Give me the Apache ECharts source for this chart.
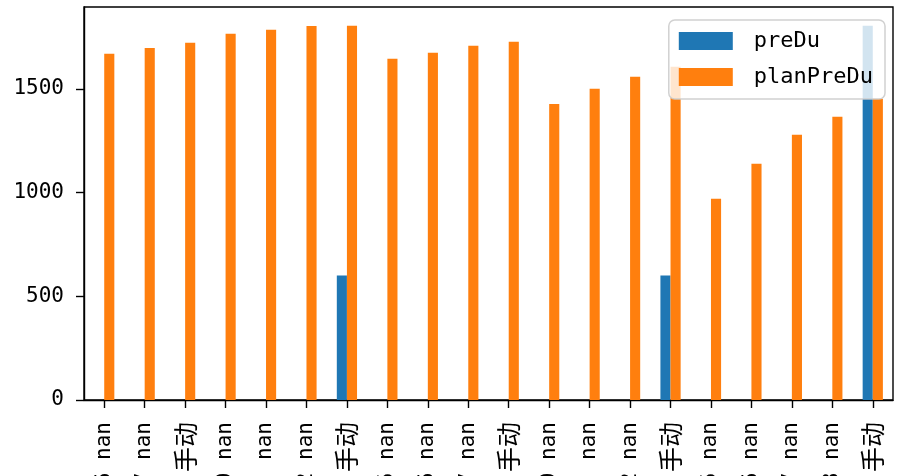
<!DOCTYPE html>
<html>
<head>
<meta charset="utf-8">
<script src="https://cdn.jsdelivr.net/npm/echarts@6/dist/echarts.min.js"></script>
<style>
  html, body { margin: 0; padding: 0; background: #fff; }
  #chart { width: 897px; height: 476px; }
</style>
</head>
<body>
<div id="chart"></div>
<script>
const categories = ['6 nan','7 nan','手动','0 nan','nan','2 nan','手动','5 nan','6 nan','7 nan','手动','0 nan','nan','2 nan','手动','5 nan','6 nan','7 nan','8 nan','手动'];
const preDu = [null,null,null,null,null,null,600,null,null,null,null,null,null,null,600,null,null,null,null,1805];
const planPreDu = [1670,1697,1723,1766,1786,1804,1805,1646,1675,1708,1728,1428,1501,1559,1607,970,1139,1279,1366,1453];
const yTicks = [0, 500, 1000, 1500];

const dataMax = Math.max(...preDu.filter(v => v != null), ...planPreDu);
const yMax = dataMax * 1.05;

const latin = '"DejaVu Sans Mono", "Noto Sans CJK SC", monospace';
const cjk = '"Noto Sans CJK SC", sans-serif';

function richLabel(v) {
  return v.split(/(手动)/).filter(s => s.length).map(s => s === '手动' ? '{c|' + s + '}' : '{n|' + s + '}').join('');
}

const chart = echarts.init(document.getElementById('chart'), null, { renderer: 'canvas' });
chart.setOption({
  animation: false,
  backgroundColor: '#fff',
  grid: {
    left: 84, right: 4, top: 7, bottom: 76,
    containLabel: false,
    outerBoundsMode: 'none',
    show: true, borderColor: '#000', borderWidth: 1.4,
    backgroundColor: 'transparent'
  },
  legend: {
    orient: 'vertical',
    right: 12, top: 20,
    itemWidth: 54, itemHeight: 18, itemGap: 14,
    icon: 'rect',
    padding: [10, 12, 11, 10],
    backgroundColor: 'rgba(255,255,255,0.8)',
    borderColor: 'rgba(204,204,204,0.9)',
    borderWidth: 1.5,
    borderRadius: 6,
    selectedMode: false,
    textStyle: { fontFamily: latin, fontSize: 22, color: '#000', lineHeight: 22, padding: [0, 0, 0, 16] },
    data: ['preDu', 'planPreDu']
  },
  xAxis: {
    type: 'category',
    data: categories,
    boundaryGap: true,
    axisLine: { show: true, lineStyle: { color: '#000', width: 1.4 } },
    axisTick: { show: true, alignWithLabel: true, length: 8, inside: false, lineStyle: { color: '#000', width: 1.4 } },
    axisLabel: {
      interval: 0,
      rotate: 90,
      margin: 22,
      hideOverlap: false,
      color: '#000',
      formatter: richLabel,
      rich: {
        n: { fontFamily: latin, fontSize: 21, color: '#000', lineHeight: 26 },
        c: { fontFamily: cjk, fontSize: 25, color: '#000', lineHeight: 26 }
      }
    },
    splitLine: { show: false }
  },
  yAxis: {
    type: 'value',
    min: 0,
    max: yMax,
    axisLine: { show: true, lineStyle: { color: '#000', width: 1.4 } },
    axisTick: { show: true, length: 8, inside: false, customValues: yTicks, lineStyle: { color: '#000', width: 1.4 } },
    axisLabel: {
      customValues: yTicks, margin: 20, fontFamily: latin, fontSize: 21, color: '#000',
      formatter: v => String(Math.round(v))
    },
    splitLine: { show: false }
  },
  series: [
    { name: 'preDu', type: 'bar', data: preDu, barWidth: '25%', barGap: '0%', itemStyle: { color: '#1f77b4' } },
    { name: 'planPreDu', type: 'bar', data: planPreDu, barWidth: '25%', barGap: '0%', itemStyle: { color: '#ff7f0e' } }
  ]
});
</script>
</body>
</html>
